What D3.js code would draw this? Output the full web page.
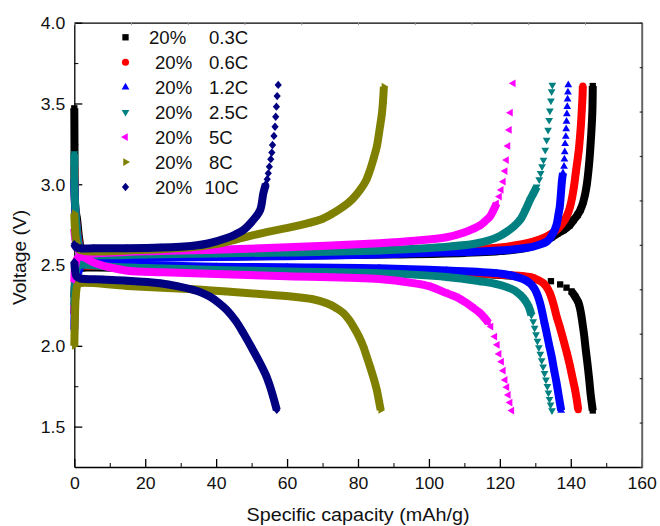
<!DOCTYPE html>
<html>
<head>
<meta charset="utf-8">
<script src="https://cdn.jsdelivr.net/npm/d3@7"></script>
<style>
html, body { margin: 0; padding: 0; background: #fff; }
svg { display: block; font-family: "Liberation Sans", Arial, Helvetica, sans-serif; }
</style>
</head>
<body>
<svg id="chart" width="660" height="526"></svg>
<script>
// ---- data: [capacity (mAh/g), voltage (V)] ----
// null = break in the dense marker trail
const rates = ["0.3C", "0.6C", "1.2C", "2.5C", "5C", "8C", "10C"];
const soc = "20%";

const charge03 = [[0,3.47],[0.05,3.25],[0.1,3.0],[0.3,2.85],[0.8,2.78],[1.4,2.66],[2.2,2.58],[4,2.55],[15,2.548],[30,2.55],[50,2.555],[70,2.56],[90,2.565],[110,2.575],[122,2.59],[128,2.61],[132,2.64],[134.5,2.67],[136.2,2.695],[138,2.717],[139.6,2.745],[140.8,2.779],[141.9,2.81],[142.7,2.841],[143.5,2.89],[144.1,2.944],[144.6,3.01],[145.0,3.088],[145.3,3.16],[145.6,3.253],[145.9,3.36],[146.1,3.459],[146.2,3.608]];
const discharge03 = [[0,2.3],[0.2,2.4],[0.6,2.46],[1.5,2.48],[5,2.485],[20,2.48],[40,2.475],[60,2.468],[86,2.458],[100,2.452],[114,2.444],[122,2.436],[127,2.427],null,[140.2,2.337],[141.2,2.306],[142.2,2.265],[142.8,2.21],[143.3,2.14],[143.8,2.06],[144.2,1.98],[144.7,1.89],[145.2,1.79],[145.6,1.7],[146.2,1.6]];
const dots03 = [[129.8,2.41],[134.4,2.4],[137.0,2.38],[138.8,2.36]];

const charge06 = [[0,3.11],[0.1,2.95],[0.3,2.83],[0.8,2.72],[1.5,2.62],[2.5,2.565],[5,2.552],[20,2.552],[40,2.558],[60,2.563],[86,2.57],[100,2.58],[112.5,2.597],[122,2.614],[129.4,2.645],[133.2,2.676],[136.5,2.727],[138.3,2.779],[139.2,2.82],[139.8,2.861],[140.4,2.92],[140.9,2.985],[141.4,3.07],[141.9,3.15],[142.3,3.22],[142.6,3.294],[142.9,3.38],[143.1,3.459],[143.3,3.54],[143.4,3.608]];
const discharge06 = [[0,2.2],[0.2,2.33],[0.6,2.44],[1.5,2.49],[5,2.495],[20,2.488],[40,2.478],[60,2.47],[86,2.46],[100,2.454],[114.4,2.446],[122,2.438],[128.5,2.426],[131,2.405],[132.3,2.388],[133.3,2.36],[134.1,2.326],[135.1,2.26],[136,2.182],[137,2.11],[137.9,2.038],[138.9,1.955],[139.8,1.873],[140.5,1.8],[141.2,1.73],[141.7,1.665],[142.1,1.605]];
const dots06 = [];

const charge12 = [[0,3.03],[0.1,2.92],[0.4,2.8],[0.8,2.7],[1.5,2.6],[2.5,2.545],[5,2.54],[20,2.545],[40,2.55],[60,2.555],[86,2.565],[103,2.577],[112.5,2.583],[122,2.593],[126,2.602],[129.4,2.614],[131.5,2.628],[133.2,2.645],[134.2,2.668],[135,2.697],[135.6,2.725],[136.1,2.759],[136.5,2.81],[136.9,2.861],[137.1,2.91],[137.3,2.965],[137.5,3.02],[137.8,3.07]];
const discharge12 = [[0,2.1],[0.2,2.3],[0.6,2.42],[1.2,2.46],[2.5,2.52],[4,2.525],[8,2.51],[20,2.5],[40,2.49],[60,2.486],[86,2.48],[105,2.466],[119.1,2.45],[123,2.437],[125.7,2.42],[127.3,2.405],[128.5,2.388],[129.6,2.36],[130.4,2.326],[131.2,2.275],[131.8,2.223],[132.5,2.15],[133.2,2.079],[133.9,2.005],[134.6,1.935],[135.3,1.85],[136.0,1.77],[136.6,1.69],[137.3,1.6]];
const dots12 = [[138.1,3.11],[138.2,3.155],[138.3,3.2],[138.4,3.25],[138.6,3.295],[138.7,3.342],[138.8,3.388],[138.9,3.435],[139.0,3.48],[139.1,3.526],[139.2,3.569],[139.3,3.614]];

const charge25 = [[0,3.19],[0.05,2.99],[0.3,2.85],[0.7,2.72],[1.3,2.62],[2.5,2.57],[5,2.562],[20,2.565],[40,2.572],[60,2.578],[86,2.59],[103,2.61],[112.5,2.63],[117.2,2.655],[120,2.68],[122,2.707],[124,2.74],[125.7,2.779],[127.2,2.84],[128.5,2.903],[129.5,2.945],[130.4,2.985]];
const discharge25 = [[0,2.25],[0.2,2.38],[0.6,2.47],[1.5,2.5],[4,2.5],[10,2.49],[20,2.482],[40,2.47],[60,2.46],[86,2.45],[105,2.426],[114.4,2.4],[118.5,2.385],[121.9,2.364],[124,2.345],[125.7,2.316],[127,2.285],[128.1,2.244],[128.9,2.19]];
const dots25 = [[131.1,3.03],[131.5,3.068],[131.9,3.11],[132.3,3.15],[132.8,3.212],[133.2,3.274],[133.6,3.336],[133.9,3.397],[134.1,3.455],[134.4,3.517],[134.6,3.574],[134.8,3.614],
  [129.4,2.15],[129.8,2.11],[130.2,2.07],[130.6,2.03],[131.0,1.99],[131.4,1.95],[131.8,1.91],[132.2,1.87],[132.6,1.83],[133.0,1.79],[133.4,1.75],[133.7,1.71],[134.0,1.67],[134.3,1.635],[134.7,1.6]];

const charge5 = [[0,2.72],[0.3,2.66],[1,2.6],[2.5,2.565],[5,2.57],[20,2.585],[40,2.595],[60,2.61],[86,2.635],[96,2.65],[105,2.672],[109.7,2.7],[112.5,2.725],[114.4,2.745],[116,2.775],[117.2,2.8],[118.2,2.84],[119.1,2.882]];
const discharge5 = [[0,2.4],[0.3,2.5],[1,2.545],[2.5,2.55],[5,2.52],[10,2.485],[15,2.465],[25,2.455],[40,2.445],[60,2.43],[86,2.413],[95.6,2.388],[100,2.37],[105,2.326],[108,2.3],[110.6,2.265],[112.5,2.235],[114.4,2.203],[115.8,2.17],[116.8,2.141]];
const dots5 = [[119.9,2.924],[120.4,2.965],[121.0,3.016],[121.5,3.082],[121.9,3.15],[122.3,3.237],[122.7,3.336],[123.0,3.443],[123.8,3.625],
  [117.5,2.119],[118.6,2.057],[119.3,2.006],[119.8,1.95],[120.5,1.902],[121.0,1.846],[121.5,1.789],[122.0,1.744],[122.4,1.696],[122.9,1.649],[123.4,1.599]];

const charge8 = [[0,2.82],[0.2,2.72],[0.6,2.64],[1.5,2.595],[4,2.585],[15,2.59],[30,2.605],[40,2.63],[45,2.655],[52.4,2.695],[61.8,2.738],[66,2.76],[69.3,2.78],[72.5,2.815],[75.9,2.862],[78.5,2.91],[80.6,2.965],[82.2,3.02],[83.4,3.088],[84.4,3.16],[85.3,3.233],[86.2,3.356],[86.7,3.43],[87.0,3.5],[87.3,3.604]];
const discharge8 = [[0,2.0],[0.15,2.15],[0.4,2.3],[0.9,2.375],[1.6,2.387],[14.8,2.371],[33.6,2.35],[43,2.336],[52.4,2.321],[61.8,2.304],[67,2.29],[71.2,2.263],[73.8,2.235],[75.9,2.202],[77.5,2.16],[78.7,2.119],[80.2,2.06],[81.5,1.995],[82.5,1.93],[83.4,1.871],[84.4,1.8],[85.3,1.727],[85.9,1.66],[86.4,1.603]];
const dots8 = [];

const charge10 = [[0,2.63],[0.5,2.61],[2,2.603],[5.4,2.604],[14.8,2.604],[24.2,2.608],[33.6,2.62],[38,2.635],[43,2.667],[45.5,2.69],[47.7,2.717],[50.5,2.78],[52.4,2.84],[53.3,2.944],[54.0,3.0]];
const discharge10 = [[0,2.52],[0.2,2.47],[0.6,2.43],[1.6,2.418],[8,2.41],[14.8,2.403],[24.2,2.387],[29,2.37],[33.6,2.346],[36,2.328],[38.3,2.304],[40.8,2.265],[43,2.222],[45.5,2.155],[47.7,2.078],[50.1,1.985],[52.4,1.892],[54,1.82],[55.2,1.748],[56.2,1.675],[57.1,1.603]];
const dots10 = [[54.4,3.031],[54.7,3.068],[55.0,3.109],[55.4,3.155],[55.7,3.196],[55.9,3.243],[56.3,3.299],[56.6,3.356],[56.8,3.418],[57.0,3.48],[57.2,3.546],[57.5,3.615]];

const xTicks = [0, 20, 40, 60, 80, 100, 120, 140, 160];
const yTicks = [1.5, 2.0, 2.5, 3.0, 3.5, 4.0];

// ---- look ----
const colors = ["#000000", "#ff0000", "#0000ff", "#008080", "#ff00ff", "#808000", "#000080"];
const shapes = [
  { type: d3.symbolSquare, size: 40, rot: 0 },
  { type: d3.symbolCircle, size: 40, rot: 0 },
  { type: d3.symbolTriangle, size: 26, rot: 0 },
  { type: d3.symbolTriangle, size: 26, rot: 180 },
  { type: d3.symbolTriangle, size: 26, rot: -90 },
  { type: d3.symbolTriangle, size: 26, rot: 90 },
  { type: d3.symbolSquare, size: 26, rot: 45, sy: 1.15 }
];
const chargeData = [charge03, charge06, charge12, charge25, charge5, charge8, charge10];
const dischargeData = [discharge03, discharge06, discharge12, discharge25, discharge5, discharge8, discharge10];
const dotData = [dots03, dots06, dots12, dots25, dots5, dots8, dots10];

const series = rates.map((rate, i) => ({
  rate, color: colors[i], shape: shapes[i],
  curves: [chargeData[i], dischargeData[i]], dots: dotData[i]
}));

const svg = d3.select("#chart");
const pLeft = 74.3, pRight = 641.7, pTop = 22.7, pBottom = 467;
const sx = 1.07;

const x = d3.scaleLinear().domain([0, 160]).range([pLeft, pRight]);
const y = d3.scaleLinear().domain([1.25, 4.0]).range([pBottom, pTop]);

// ---- axes ----
const fontFam = '"Liberation Sans", Arial, Helvetica, sans-serif';

const gx = svg.append("g").attr("transform", `translate(0,${pBottom})`)
  .call(d3.axisBottom(x).tickValues(xTicks).tickSize(-8).tickSizeOuter(0).tickPadding(10));
svg.append("g").attr("transform", `translate(0,${pBottom})`)
  .call(d3.axisBottom(x).tickValues(d3.range(10, 160, 20)).tickSize(-4).tickSizeOuter(0).tickFormat(""))
  .select(".domain").remove();
gx.select(".domain").attr("stroke-width", 1.7);
gx.selectAll(".tick line").attr("stroke-width", 1.3);
gx.selectAll("text").attr("font-size", 16.5).attr("font-family", fontFam).attr("fill", "#111")
  .attr("transform", `scale(${sx},1)`);

const gy = svg.append("g").attr("transform", `translate(${pLeft},0)`)
  .call(d3.axisLeft(y).tickValues(yTicks).tickSize(-8).tickSizeOuter(0).tickPadding(9).tickFormat(d3.format(".1f")));
svg.append("g").attr("transform", `translate(${pLeft},0)`)
  .call(d3.axisLeft(y).tickValues([1.75, 2.25, 2.75, 3.25, 3.75]).tickSize(-4).tickSizeOuter(0).tickFormat(""))
  .select(".domain").remove();
gy.select(".domain").attr("stroke-width", 1.3);
gy.selectAll(".tick line").attr("stroke-width", 1.3);
gy.selectAll("text").attr("font-size", 16.5).attr("font-family", fontFam).attr("fill", "#111")
  .attr("dy", "0.36em").attr("transform", `scale(${sx},1)`)
  .attr("x", -9 / sx);

// frame: top and right carry their own 10-division ticks
const frac = d3.scaleLinear().domain([0, 10]);
const gt = svg.append("g").attr("transform", `translate(0,${pTop})`)
  .call(d3.axisTop(frac.copy().range([pLeft, pRight])).ticks(10).tickSize(-2.5).tickSizeOuter(0).tickFormat(""));
gt.select(".domain").attr("stroke-width", 1.2);
gt.selectAll(".tick line").attr("stroke", "#999");
const gr = svg.append("g").attr("transform", `translate(${pRight},0)`)
  .call(d3.axisRight(frac.copy().range([pBottom, pTop])).ticks(10).tickSize(3).tickSizeOuter(0).tickFormat(""));
gr.select(".domain").attr("stroke", "#666").attr("stroke-width", 2);
gr.selectAll(".tick line").attr("stroke", "#333").attr("transform", "translate(-2,0)").attr("stroke-width", 1.2);

// axis titles
svg.append("text")
  .attr("transform", `translate(${(pLeft + pRight) / 2},521) scale(${sx},1)`)
  .attr("text-anchor", "middle").attr("font-size", 18.5).attr("fill", "#111")
  .text("Specific capacity (mAh/g)");
svg.append("text")
  .attr("transform", `translate(26,257.5) rotate(-90) scale(${sx},1)`)
  .attr("text-anchor", "middle").attr("font-size", 18).attr("fill", "#111")
  .text("Voltage (V)");

// ---- curves ----
const line = d3.line()
  .defined(d => d != null)
  .x(d => x(d[0])).y(d => y(d[1]))
  .curve(d3.curveCatmullRom.alpha(0.5));

function symbolPath(shape) {
  return d3.symbol().type(shape.type).size(shape.size)();
}
function symbolTransform(shape, px, py) {
  return `translate(${px},${py}) scale(1,${shape.sy || 1}) rotate(${shape.rot})`;
}

const plot = svg.append("g");
series.forEach(s => {
  const g = plot.append("g");
  s.curves.forEach(c => {
    g.append("path")
      .attr("d", line(c))
      .attr("fill", "none")
      .attr("stroke", s.color)
      .attr("stroke-width", 8)
      .attr("stroke-linejoin", "round")
      .attr("stroke-linecap", "butt");
  });
  const pts = s.curves.flat().filter(d => d != null).concat(s.dots);
  g.selectAll("path.mk").data(pts).join("path")
    .attr("class", "mk")
    .attr("d", symbolPath(s.shape))
    .attr("transform", d => symbolTransform(s.shape, x(d[0]), y(d[1])))
    .attr("fill", s.color);
});

// ---- legend ----
const legend = svg.append("g");
series.forEach((s, i) => {
  const cy = 37.3 + 24.95 * i;
  legend.append("path")
    .attr("d", symbolPath(s.shape))
    .attr("transform", symbolTransform(s.shape, 125.5, cy))
    .attr("fill", s.color);
  const t = legend.append("text")
    .attr("transform", `translate(0,${cy + 6.7})`)
    .attr("font-size", 18.6).attr("fill", "#111");
  t.append("tspan").attr("x", i === 0 ? 149 : 155).text(soc);
  t.append("tspan").attr("x", s.rate === "10C" ? 204.5 : 209).text(s.rate);
});
</script>
</body>
</html>
